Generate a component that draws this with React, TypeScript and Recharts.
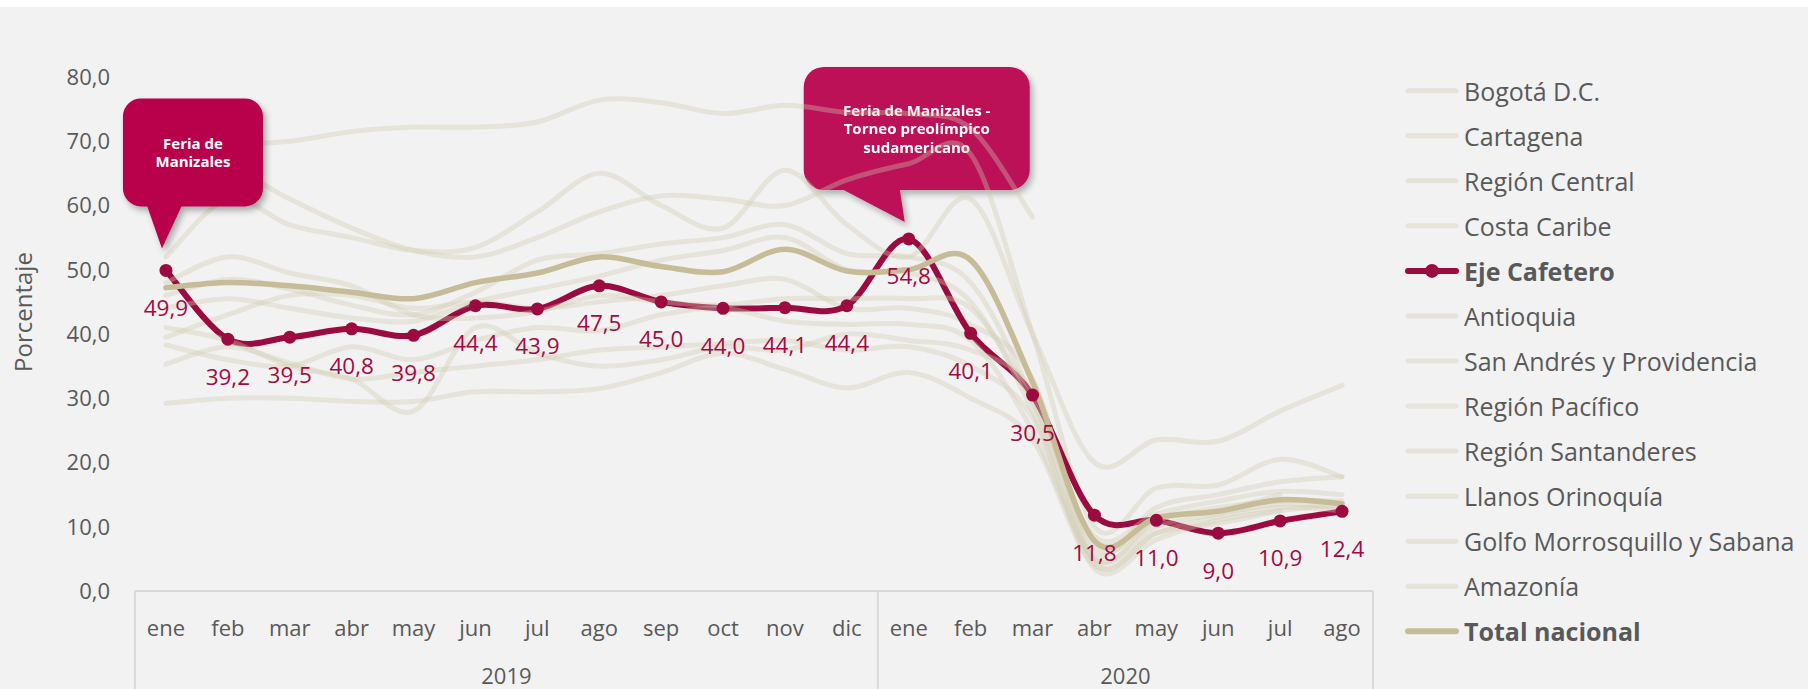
import React from 'react';
import { LineChart, Line, XAxis, YAxis, LabelList, ReferenceDot } from 'recharts';

// ---------- data ----------
const MONTHS = ['ene', 'feb', 'mar', 'abr', 'may', 'jun', 'jul', 'ago', 'sep', 'oct', 'nov', 'dic', 'ene', 'feb', 'mar', 'abr', 'may', 'jun', 'jul', 'ago'];
const YEARS = ['2019', '2019', '2019', '2019', '2019', '2019', '2019', '2019', '2019', '2019', '2019', '2019', '2020', '2020', '2020', '2020', '2020', '2020', '2020', '2020'];
const Y_TICKS = [0, 10, 20, 30, 40, 50, 60, 70, 80];

const bogota = [46, 48.5, 47, 44.5, 43, 46.5, 51.5, 52.5, 54, 55, 57, 52.5, 52, 48, 30, 6, 13, 15, 17, 17.8];
const cartagena = [69, 69.5, 70, 71.5, 72.2, 72.2, 73, 76.4, 76, 74.3, 75.6, 74.5, 74.3, 72, 58.2, null, null, null, null, null];
const regionCentral = [39.5, 43, 46, 46, 44, 45, 44, 45, 46, 47.5, 48.5, 44, 44, 41.5, 33, 4.5, 9, 10.5, 12.5, null];
const costaCaribe = [67, 66, 61, 56.5, 53, 52, 55, 59, 61.5, 61, 60, 64, 66.5, 68, 40, 10, 16, 16.5, 20.5, 17.8];
const ejeCafetero = [49.9, 39.2, 39.5, 40.8, 39.8, 44.4, 43.9, 47.5, 45.0, 44.0, 44.1, 44.4, 54.8, 40.1, 30.5, 11.8, 11.0, 9.0, 10.9, 12.4];
const antioquia = [48, 52, 49.5, 47.5, 43, 42.5, 43.5, 46, 45, 44.5, 45.5, 45.5, 45.5, 44, 29.5, 8.5, 12, 14, 15.5, 15];
const sanAndres = [52, 61, 57, 55, 53, 53.5, 59, 65, 60, 56.5, 65.5, 57, 52, 61, 40, 20, 23.5, 23.3, 28, 32];
const regionPacifico = [38.3, 36, 35, 38, 36, 39, 41, 40.5, 43, 44, 42, 41.5, 41.5, 39, 25, 5, 10, 12, 13.5, 13];
const regionSantanderes = [35.3, 38, 35.5, 33, 34, 35, 36, 37.5, 38, 38.5, 39, 37.5, 38, 35, 27, 3.5, 8, 11, 12.5, 13.5];
const llanosOrinoquia = [29.2, 30, 30, 29.5, 29.5, 31, 31, 31.5, 34, 37, 34.5, 31.6, 34, 30, 23.5, 4, 9, 11.5, 13, 12.5];
const golfoMorrosquillo = [41, 39, 35, 33, 28, 41, 37, 35, 36, 38, 37.5, 40, 39, 37.5, 31, 7, 11, 13, 14, 14];
const amazonia = [44, 45.5, 44, 42.5, 42, 45, 47, 49, 51.5, 53, 55, 50, 49.5, 45, 28, 5, 11, 12.5, 15, null];
const totalNacional = [47.2, 48, 47.5, 46.5, 45.5, 48, 49.5, 52, 50.5, 49.7, 53.2, 49.8, 50, 51.5, 32.5, 7.8, 11.4, 12.4, 14.2, 13.6];

const SERIES = [
  { key: 'bogota', name: 'Bogotá D.C.', values: bogota, kind: 'region' },
  { key: 'cartagena', name: 'Cartagena', values: cartagena, kind: 'region' },
  { key: 'central', name: 'Región Central', values: regionCentral, kind: 'region' },
  { key: 'caribe', name: 'Costa Caribe', values: costaCaribe, kind: 'region' },
  { key: 'eje', name: 'Eje Cafetero', values: ejeCafetero, kind: 'eje' },
  { key: 'antioquia', name: 'Antioquia', values: antioquia, kind: 'region' },
  { key: 'sanandres', name: 'San Andrés y Providencia', values: sanAndres, kind: 'region' },
  { key: 'pacifico', name: 'Región Pacífico', values: regionPacifico, kind: 'region' },
  { key: 'santanderes', name: 'Región Santanderes', values: regionSantanderes, kind: 'region' },
  { key: 'llanos', name: 'Llanos Orinoquía', values: llanosOrinoquia, kind: 'region' },
  { key: 'golfo', name: 'Golfo Morrosquillo y Sabana', values: golfoMorrosquillo, kind: 'region' },
  { key: 'amazonia', name: 'Amazonía', values: amazonia, kind: 'region' },
  { key: 'total', name: 'Total nacional', values: totalNacional, kind: 'total' },
];

const CALLOUT_1 = ['Feria de', 'Manizales'];
const CALLOUT_2 = ['Feria de Manizales -', 'Torneo preolímpico', 'sudamericano'];
const CALLOUT_1_INDEX = 0;
const CALLOUT_2_INDEX = 12;

const KEYS = MONTHS.map((m, i) => `${m} ${YEARS[i]}`);
const data = KEYS.map((k, i) => {
  const row: any = { key: k };
  SERIES.forEach((s) => { row[s.key] = s.values[i]; });
  return row;
});

// ---------- styles ----------
const FONT = '"Open Sans", "Noto Sans", sans-serif';
const GREY_TEXT = '#595959';
const EJE_COLOR = '#9b0b3f';
const EJE_LABEL = '#a30a41';
const TOTAL_COLOR = '#c6bc97';
const REGION_COLOR = '#d0c9ae';
const REGION_OPACITY = 0.36;
const CALLOUT_FILL = '#b8004b';
const AXIS_COLOR = '#d9d9d9';

const W = 1808;
const H = 682;
const M = { top: 70, right: 435, bottom: 0, left: 0 };
const Y_AXIS_W = 135;
const X_AXIS_H = 98;
const BAND = (W - M.right - Y_AXIS_W) / MONTHS.length;

const fmt = (v: number) => v.toFixed(1).replace('.', ',');

// Excel-like smoothed line (Catmull-Rom style bezier)
function excelSmooth(context: any) {
  let pts: number[][] = [];
  return {
    areaStart() {},
    areaEnd() {},
    lineStart() { pts = []; },
    point(x: number, y: number) { pts.push([+x, +y]); },
    lineEnd() {
      const n = pts.length;
      if (!n) return;
      context.moveTo(pts[0][0], pts[0][1]);
      if (n === 1) { context.lineTo(pts[0][0], pts[0][1]); return; }
      const k = 1 / 6;
      for (let i = 0; i < n - 1; i++) {
        const p0 = pts[i > 0 ? i - 1 : i];
        const p1 = pts[i];
        const p2 = pts[i + 1];
        const p3 = pts[i + 2 < n ? i + 2 : i + 1];
        context.bezierCurveTo(
          p1[0] + (p2[0] - p0[0]) * k, p1[1] + (p2[1] - p0[1]) * k,
          p2[0] - (p3[0] - p1[0]) * k, p2[1] - (p3[1] - p1[1]) * k,
          p2[0], p2[1]
        );
      }
    },
  };
}

const groups = (() => {
  const out: { year: string; first: number; last: number }[] = [];
  YEARS.forEach((y, i) => {
    const g = out[out.length - 1];
    if (g && g.year === y) g.last = i; else out.push({ year: y, first: i, last: i });
  });
  return out;
})();

const MonthTick = (props: any) => {
  const { x, y, payload } = props;
  const i = payload.index;
  const off = payload.offset || BAND / 2;
  const g = groups.find((gg) => gg.first === i);
  const gl = groups.find((gg) => gg.last === i);
  const isLastGroup = gl && gl === groups[groups.length - 1];
  return (
    <g>
      <text x={x} y={y + 36} textAnchor="middle" dominantBaseline="central" fill={GREY_TEXT} fontSize={22} fontFamily={FONT}>
        {MONTHS[i]}
      </text>
      {g && <line x1={x - off} x2={x - off} y1={y} y2={y + X_AXIS_H} stroke={AXIS_COLOR} strokeWidth={2} />}
      {isLastGroup && <line x1={x + off} x2={x + off} y1={y} y2={y + X_AXIS_H} stroke={AXIS_COLOR} strokeWidth={2} />}
      {g && (
        <text x={x + (g.last - g.first) * off} y={y + 84} textAnchor="middle" dominantBaseline="central" fill={GREY_TEXT} fontSize={22} fontFamily={FONT}>
          {g.year}
        </text>
      )}
    </g>
  );
};

const EjeLabel = (props: any) => {
  const { x, y, value } = props;
  if (value == null) return null;
  return (
    <text x={x} y={y + 37} textAnchor="middle" dominantBaseline="central" fill={EJE_LABEL} fontSize={22.5} fontFamily={FONT}>
      {fmt(value)}
    </text>
  );
};

const PctLabel = (props: any) => {
  const vb = props.viewBox || { x: 0, y: 0, width: 0, height: 0 };
  const cx = vb.x + 22;
  const cy = vb.y + vb.height / 2 - 22;
  return (
    <text x={cx} y={cy} transform={`rotate(-90 ${cx} ${cy})`} textAnchor="middle" dominantBaseline="central" fill={GREY_TEXT} fontSize={24} fontFamily={FONT}>
      Porcentaje
    </text>
  );
};

type CalloutGeom = { left: number; right: number; top: number; bottom: number; tailL: number; tailR: number; tipX: number; tipY: number; r: number; lh: number };

const makeCallout = (lines: string[], g: CalloutGeom, id: string, opacity: number) => (props: any) => {
  const { cx, cy } = props;
  if (cx == null || cy == null) return null;
  const L = cx + g.left, R = cx + g.right, T = cy + g.top, B = cy + g.bottom;
  const mx = (L + R) / 2, my = (T + B) / 2;
  return (
    <g opacity={opacity}>
      <defs>
        <filter id={id} x="-20%" y="-20%" width="140%" height="140%">
          <feDropShadow dx="3" dy="4" stdDeviation="3" floodColor="#000" floodOpacity="0.3" />
        </filter>
      </defs>
      <g filter={`url(#${id})`}>
        <rect x={L} y={T} width={R - L} height={B - T} rx={g.r} ry={g.r} fill={CALLOUT_FILL} />
        <polygon points={`${cx + g.tailL},${B - 1} ${cx + g.tailR},${B - 1} ${cx + g.tipX},${cy + g.tipY}`} fill={CALLOUT_FILL} />
      </g>
      {lines.map((t, k) => (
        <text key={k} x={mx} y={my + (k - (lines.length - 1) / 2) * g.lh} textAnchor="middle" dominantBaseline="central"
          fill="#ffffff" fontWeight={700} fontSize={15} fontFamily={FONT}>
          {t}
        </text>
      ))}
    </g>
  );
};

const Callout1 = makeCallout(CALLOUT_1, { left: -43, right: 97, top: -172, bottom: -64, tailL: -19, tailR: 16, tipX: -4, tipY: -22, r: 18, lh: 18 }, 'sh1', 1);
const Callout2 = makeCallout(CALLOUT_2, { left: -105, right: 121, top: -172, bottom: -49, tailL: -67, tailR: -9, tipX: -4, tipY: -17, r: 20, lh: 18.7 }, 'sh2', 0.93);

const Legend = () => (
  <svg width={420} height={689} style={{ position: 'absolute', left: 1390, top: 0 }}>
    {SERIES.map((s, i) => {
      const y = 90.7 + 45.05 * i;
      const x1 = 1405 - 1390, x2 = 1459 - 1390;
      const tx = 1464 - 1390;
      const bold = s.kind !== 'region';
      return (
        <g key={s.key}>
          {s.kind === 'region' && <line x1={x1 + 3} x2={x2 - 3} y1={y} y2={y} stroke={REGION_COLOR} strokeOpacity={REGION_OPACITY} strokeWidth={5} strokeLinecap="round" />}
          {s.kind === 'eje' && (
            <g>
              <line x1={x1 + 3} x2={x2 - 3} y1={y} y2={y} stroke={EJE_COLOR} strokeWidth={6} strokeLinecap="round" />
              <circle cx={(x1 + x2) / 2} cy={y} r={7} fill={EJE_COLOR} />
            </g>
          )}
          {s.kind === 'total' && <line x1={x1 + 3} x2={x2 - 3} y1={y} y2={y} stroke={TOTAL_COLOR} strokeWidth={6} strokeLinecap="round" />}
          <text x={tx} y={y} dominantBaseline="central" fill={GREY_TEXT} fontSize={25} fontWeight={bold ? 700 : 400} fontFamily={FONT}>
            {s.name}
          </text>
        </g>
      );
    })}
  </svg>
);

export default function App() {
  return (
    <div style={{ position: 'absolute', left: 0, top: 0, width: 1808, height: 689, background: '#ffffff', fontFamily: FONT, overflow: 'hidden' }}>
      <div style={{ position: 'absolute', left: 0, top: 7, width: W, height: H, background: '#f2f2f2' }}>
        <LineChart width={W} height={H} data={data} margin={M} style={{ fontFamily: FONT }}>
          <XAxis dataKey="key" type="category" interval={0} tickLine={false} tickSize={0} tickMargin={0}
            padding={{ left: BAND / 2, right: BAND / 2 }}
            axisLine={{ stroke: AXIS_COLOR, strokeWidth: 2 }} height={X_AXIS_H} tick={<MonthTick />} />
          <YAxis domain={[0, 80]} ticks={Y_TICKS} width={Y_AXIS_W} axisLine={false} tickLine={false} tickSize={0} tickMargin={25}
            tickFormatter={fmt} tick={{ fill: GREY_TEXT, fontSize: 22, fontFamily: FONT }} label={<PctLabel />} />
          <ReferenceDot x={KEYS[CALLOUT_2_INDEX]} y={ejeCafetero[CALLOUT_2_INDEX]} ifOverflow="visible" shape={Callout2} zIndex={350} />
          {SERIES.map((s) => {
            if (s.kind === 'region') {
              return (
                <Line key={s.key} dataKey={s.key} name={s.name} type={excelSmooth as any} stroke={REGION_COLOR} strokeOpacity={REGION_OPACITY}
                  strokeWidth={5} dot={false} activeDot={false} isAnimationActive={false} strokeLinecap="round" />
              );
            }
            if (s.kind === 'eje') {
              return (
                <Line key={s.key} dataKey={s.key} name={s.name} type={excelSmooth as any} stroke={EJE_COLOR} strokeWidth={6}
                  dot={{ r: 6.5, fill: EJE_COLOR, stroke: EJE_COLOR, strokeWidth: 0 }} activeDot={false} isAnimationActive={false}>
                  <LabelList dataKey={s.key} content={<EjeLabel />} />
                </Line>
              );
            }
            return (
              <Line key={s.key} dataKey={s.key} name={s.name} type={excelSmooth as any} stroke={TOTAL_COLOR} strokeWidth={5.5}
                dot={false} activeDot={false} isAnimationActive={false} strokeLinecap="round" />
            );
          })}
          <ReferenceDot x={KEYS[CALLOUT_1_INDEX]} y={ejeCafetero[CALLOUT_1_INDEX]} ifOverflow="visible" shape={Callout1} zIndex={2500} />
        </LineChart>
      </div>
      <Legend />
    </div>
  );
}
